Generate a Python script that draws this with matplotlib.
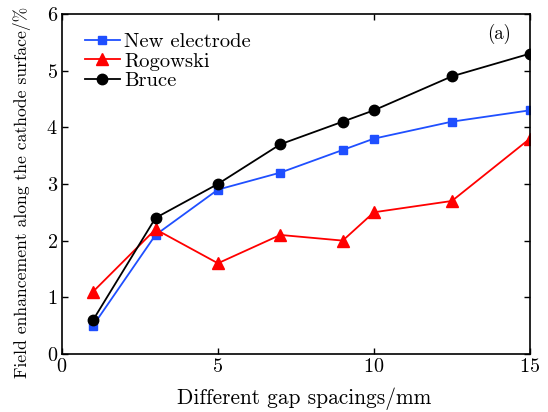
import matplotlib
matplotlib.use("Agg")
import matplotlib.pyplot as plt

plt.rcParams['font.family'] = 'serif'
plt.rcParams['font.serif'] = ['cmr10']
plt.rcParams['axes.formatter.use_mathtext'] = True
plt.rcParams['mathtext.fontset'] = 'cm'

gap = [1, 3, 5, 7, 9, 10, 12.5, 15]
new_electrode = [0.5, 2.1, 2.9, 3.2, 3.6, 3.8, 4.1, 4.3]
rogowski = [1.1, 2.2, 1.6, 2.1, 2.0, 2.5, 2.7, 3.8]
bruce = [0.6, 2.4, 3.0, 3.7, 4.1, 4.3, 4.9, 5.3]

fig = plt.figure(figsize=(5.48, 4.12), dpi=100)
ax = fig.add_axes([0.113, 0.141, 0.854, 0.825])

ax.plot(gap, new_electrode, color='#1f4fff', marker='s', markersize=6, lw=1.3, label='New electrode')
ax.plot(gap, rogowski, color='#ff0000', marker='^', markersize=8, lw=1.3, label='Rogowski')
ax.plot(gap, bruce, color='black', marker='o', markersize=7.5, lw=1.3, label='Bruce')

ax.set_xlim(0, 15)
ax.set_ylim(0, 6)
ax.set_xticks([0, 5, 10, 15])
ax.set_yticks([0, 1, 2, 3, 4, 5, 6])
ax.tick_params(direction='in', top=True, right=True, labelsize=14.5, length=4, width=1, pad=3)
for s in ax.spines.values():
    s.set_linewidth(1.2)

ax.set_xlabel('Different gap spacings/mm', fontsize=15.4)
ax.xaxis.set_label_coords(0.517, -0.1)
ax.set_ylabel('Field enhancement along the cathode surface/%', fontsize=12.7)
ax.yaxis.set_label_coords(-0.067, 0.476)
ax.text(0.935, 0.94, '(a)', transform=ax.transAxes, fontsize=13.5, ha='center', va='center')

ax.legend(loc='upper left', bbox_to_anchor=(0.049, 0.945), frameon=False, fontsize=14.8,
          handlelength=1.7, handletextpad=0.2, labelspacing=0.05, borderaxespad=0.0, borderpad=0.0)

fig.savefig('out.png', dpi=100)
